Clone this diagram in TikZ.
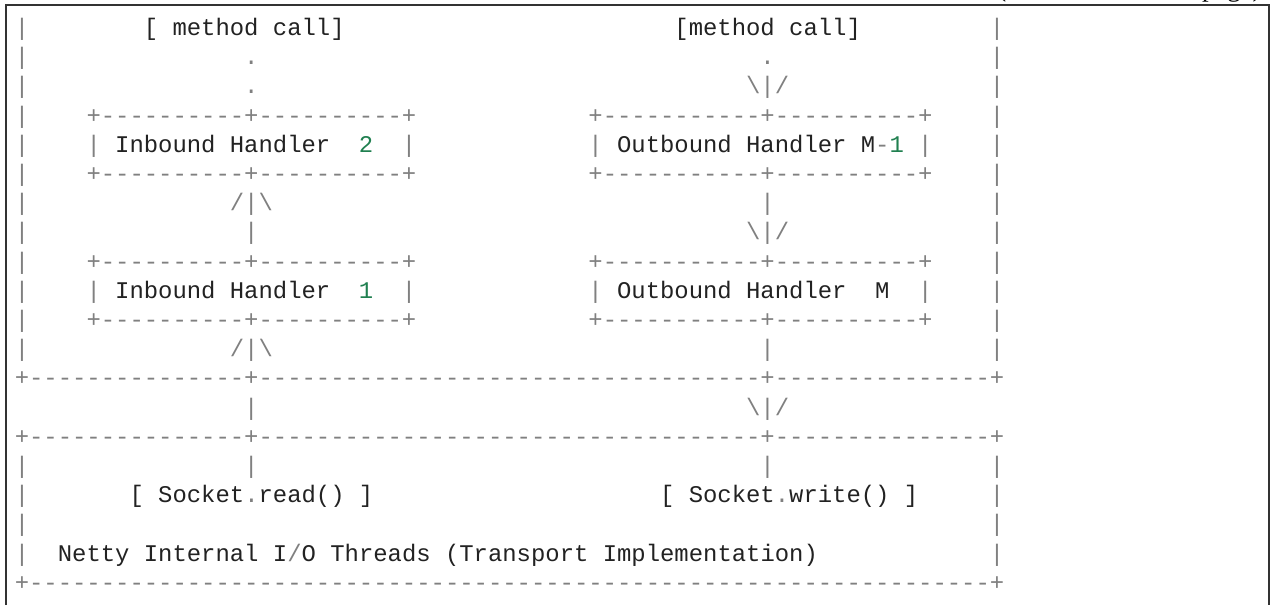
\documentclass[tikz,border=0pt]{standalone}
\usepackage{fontspec}
\setmainfont{Liberation Serif}
\setmonofont{Liberation Mono}

\definecolor{opgray}{HTML}{808080}
\definecolor{codetext}{HTML}{222222}
\definecolor{numgreen}{HTML}{208050}
\newcommand{\op}[1]{\textcolor{opgray}{#1}}
\newcommand{\nm}[1]{\textcolor{numgreen}{#1}}
\newcommand{\dashrun}[1]{\foreach \i in {1,...,#1}{-}}
\def\colw{7.17pt}
\def\rowh{14.6pt}

\begin{document}
\begin{tikzpicture}[x=0.5pt,y=-0.5pt]
    \tikzstyle{ascii}=[anchor=base west,inner sep=0pt,outer sep=0pt,font=\ttfamily\fontsize{11.95}{14.6}\selectfont,text=codetext]
    \tikzstyle{op}=[ascii,text=opgray]
    \tikzstyle{frame}=[draw=black!80,line width=0.7pt]

    \useasboundingbox (0,0) rectangle (1273,605);
    \draw[frame] (6,605) -- (6,5) -- (1269,5) -- (1269,605);
    \node[anchor=base east,inner sep=0pt,font=\fontsize{13.4}{16}\selectfont] (cont) at (1262,-3.5) {(continues on next page)};

    \begin{scope}[shift={(14.8,35.4)},x=\colw,y=-\rowh]
    % side bars
    \foreach \r in {0,...,11,15,16,17,18} {
        \node[op] (L-\r) at (0,\r) {|};
        \node[op] (R-\r) at (68,\r) {|};
    }

    \node[ascii] (mc-in) at (9,0) {[ method call]};
    \node[ascii] (mc-out) at (46,0) {[method call]};

    \node[op] (id-1) at (16,1) {.};
    \node[op] (od-1) at (52,1) {.};
    \node[op] (id-2) at (16,2) {.};
    \node[op] (oa-2) at (51,2) {\textbackslash|/};

    % handler boxes
    \foreach \r in {3,5,8,10} {
        \node[op] (IB-\r) at (5,\r) {+\dashrun{10}+\dashrun{10}+};
        \node[op] (OB-\r) at (40,\r) {+\dashrun{11}+\dashrun{10}+};
    }
    \foreach \n/\r in {2/4,1/9} {
        \node[op] (IL-\n) at (5,\r) {|};
        \node[ascii] (IH-\n) at (7,\r) {Inbound Handler};
        \node[ascii,text=numgreen] (IN-\n) at (24,\r) {\n};
        \node[op] (IR-\n) at (27,\r) {|};
        \node[op] (OL-\n) at (40,\r) {|};
        \node[ascii] (OH-\n) at (42,\r) {Outbound Handler};
        \node[op] (OR-\n) at (63,\r) {|};
    }
    \node[ascii] (OM-2) at (59,4) {M\op{-}\nm{1}};
    \node[ascii] (OM-1) at (60,9) {M};

    \node[op] (ia-6) at (15,6) {/|\textbackslash};
    \node[op] (ov-6) at (52,6) {|};
    \node[op] (iv-7) at (16,7) {|};
    \node[op] (oa-7) at (51,7) {\textbackslash|/};
    \node[op] (ia-11) at (15,11) {/|\textbackslash};
    \node[op] (ov-11) at (52,11) {|};

    % transport layer
    \foreach \r in {12,14}
        \node[op] (B-\r) at (0,\r) {+\dashrun{15}+\dashrun{35}+\dashrun{15}+};
    \node[op] (iv-13) at (16,13) {|};
    \node[op] (oa-13) at (51,13) {\textbackslash|/};
    \node[op] (iv-15) at (16,15) {|};
    \node[op] (ov-15) at (52,15) {|};

    \node[ascii] (sock-r) at (8,16) {[ Socket\op{.}read() ]};
    \node[ascii] (sock-w) at (45,16) {[ Socket\op{.}write() ]};
    \node[ascii] (netty) at (3,18) {Netty Internal I\op{/}O Threads (Transport Implementation)};
    \node[op] (B-19) at (0,19) {+\dashrun{67}+};
    \end{scope}
\end{tikzpicture}
\end{document}
